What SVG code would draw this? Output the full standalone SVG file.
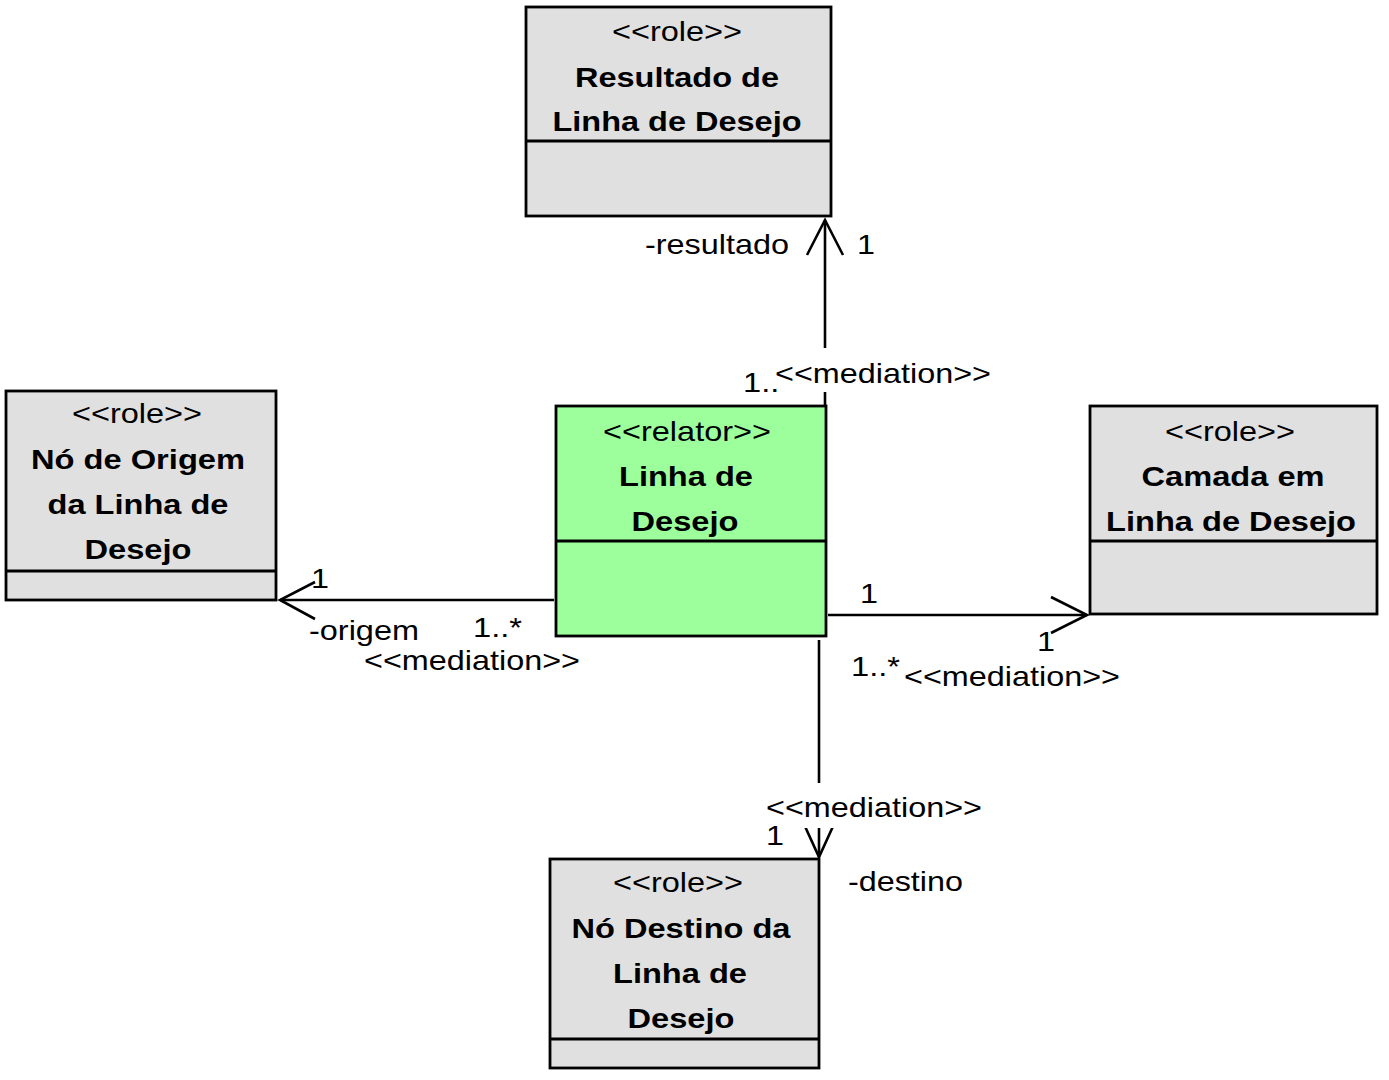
<svg xmlns="http://www.w3.org/2000/svg" width="1389" height="1080" viewBox="0 0 1389 1080">
<style>
text{font-family:"Liberation Sans",Arial,sans-serif;font-size:28.5px;fill:#000}
.c{text-anchor:middle}
.b{font-weight:bold}
.box{stroke:#000;stroke-width:2.8}
.role{fill:#e0e0e0}
.rel{fill:#9cff9c}
.div{stroke:#000;stroke-width:2.8}
.ln{stroke:#000;stroke-width:2.6;fill:none}
.bg{fill:#fff}
</style>
<rect width="1389" height="1080" fill="#fff"/>
<g id="connectors">
<line class="ln" x1="825" y1="405" x2="825" y2="220"/>
<polyline class="ln" points="807,255 825,220 843,255"/>
<line class="ln" x1="554" y1="600" x2="280" y2="600"/>
<polyline class="ln" points="315,582 280,600 315,619"/>
<line class="ln" x1="828" y1="615" x2="1087" y2="615"/>
<polyline class="ln" points="1051,597 1087,615 1051,633"/>
<line class="ln" x1="819" y1="640" x2="819" y2="857"/>
<polyline class="ln" points="803,822 819,857 835,822"/>
<text x="645" y="254" textLength="144" lengthAdjust="spacingAndGlyphs">-resultado</text>
<text x="857" y="254" textLength="18" lengthAdjust="spacingAndGlyphs">1</text>
<text x="743" y="392" textLength="49" lengthAdjust="spacingAndGlyphs">1..*</text>
<rect class="bg" x="779" y="348" width="212" height="44"/>
<text x="775" y="383" textLength="216" lengthAdjust="spacingAndGlyphs">&lt;&lt;mediation&gt;&gt;</text>
<text x="311" y="588" textLength="18" lengthAdjust="spacingAndGlyphs">1</text>
<text x="309" y="640" textLength="110" lengthAdjust="spacingAndGlyphs">-origem</text>
<text x="473" y="637" textLength="49" lengthAdjust="spacingAndGlyphs">1..*</text>
<text x="364" y="670" textLength="216" lengthAdjust="spacingAndGlyphs">&lt;&lt;mediation&gt;&gt;</text>
<text x="860" y="603" textLength="18" lengthAdjust="spacingAndGlyphs">1</text>
<text x="1037" y="651" textLength="18" lengthAdjust="spacingAndGlyphs">1</text>
<text x="851" y="676" textLength="49" lengthAdjust="spacingAndGlyphs">1..*</text>
<text x="904" y="686" textLength="216" lengthAdjust="spacingAndGlyphs">&lt;&lt;mediation&gt;&gt;</text>
<rect class="bg" x="770" y="783" width="212" height="45"/>
<text x="766" y="817" textLength="216" lengthAdjust="spacingAndGlyphs">&lt;&lt;mediation&gt;&gt;</text>
<text x="766" y="845" textLength="18" lengthAdjust="spacingAndGlyphs">1</text>
<text x="848" y="891" textLength="115" lengthAdjust="spacingAndGlyphs">-destino</text>
</g>
<g id="resultado">
<rect class="box role" x="526" y="7" width="305" height="209"/>
<line class="div" x1="526" y1="141" x2="831" y2="141"/>
<text class="c" x="677" y="41" textLength="130" lengthAdjust="spacingAndGlyphs">&lt;&lt;role&gt;&gt;</text>
<text class="c b" x="677" y="87" textLength="204" lengthAdjust="spacingAndGlyphs">Resultado de</text>
<text class="c b" x="677" y="131" textLength="249" lengthAdjust="spacingAndGlyphs">Linha de Desejo</text>
</g>
<g id="origem">
<rect class="box role" x="6" y="391" width="270" height="209"/>
<line class="div" x1="6" y1="571" x2="276" y2="571"/>
<text class="c" x="137" y="423" textLength="130" lengthAdjust="spacingAndGlyphs">&lt;&lt;role&gt;&gt;</text>
<text class="c b" x="138" y="469" textLength="214" lengthAdjust="spacingAndGlyphs">Nó de Origem</text>
<text class="c b" x="138" y="514" textLength="181" lengthAdjust="spacingAndGlyphs">da Linha de</text>
<text class="c b" x="138" y="559" textLength="107" lengthAdjust="spacingAndGlyphs">Desejo</text>
</g>
<g id="linha">
<rect class="box rel" x="556" y="406" width="270" height="230"/>
<line class="div" x1="556" y1="541" x2="826" y2="541"/>
<text class="c" x="687" y="441" textLength="168" lengthAdjust="spacingAndGlyphs">&lt;&lt;relator&gt;&gt;</text>
<text class="c b" x="686" y="486" textLength="134" lengthAdjust="spacingAndGlyphs">Linha de</text>
<text class="c b" x="685" y="531" textLength="107" lengthAdjust="spacingAndGlyphs">Desejo</text>
</g>
<g id="camada">
<rect class="box role" x="1090" y="406" width="287" height="208"/>
<line class="div" x1="1090" y1="541" x2="1377" y2="541"/>
<text class="c" x="1230" y="441" textLength="130" lengthAdjust="spacingAndGlyphs">&lt;&lt;role&gt;&gt;</text>
<text class="c b" x="1233" y="486" textLength="183" lengthAdjust="spacingAndGlyphs">Camada em</text>
<text class="c b" x="1231" y="531" textLength="250" lengthAdjust="spacingAndGlyphs">Linha de Desejo</text>
</g>
<g id="destino">
<rect class="box role" x="550" y="859" width="269" height="209"/>
<line class="div" x1="550" y1="1039" x2="819" y2="1039"/>
<text class="c" x="678" y="892" textLength="130" lengthAdjust="spacingAndGlyphs">&lt;&lt;role&gt;&gt;</text>
<text class="c b" x="681" y="938" textLength="219" lengthAdjust="spacingAndGlyphs">Nó Destino da</text>
<text class="c b" x="680" y="983" textLength="134" lengthAdjust="spacingAndGlyphs">Linha de</text>
<text class="c b" x="681" y="1028" textLength="107" lengthAdjust="spacingAndGlyphs">Desejo</text>
</g>
</svg>
